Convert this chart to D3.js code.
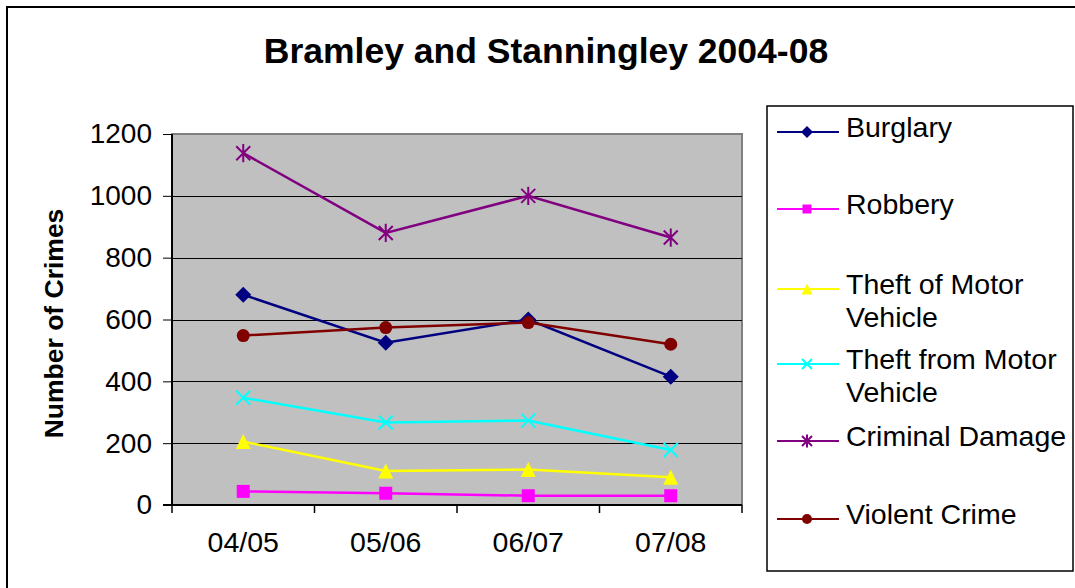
<!DOCTYPE html>
<html>
<head>
<meta charset="utf-8">
<script src="https://cdn.jsdelivr.net/npm/d3@7"></script>
<style>
  body { margin: 0; background: #fff; }
  svg { display: block; font-family: "Liberation Sans", Arial, sans-serif; }
</style>
</head>
<body>
<div id="chart"></div>
<script>
var years = ["04/05", "05/06", "06/07", "07/08"];
var yTicks = [0, 200, 400, 600, 800, 1000, 1200];

var burglary = [680, 525, 600, 415];
var robbery = [44, 38, 30, 30];
var theftOf = [205, 110, 115, 90];
var theftFrom = [347, 267, 273, 178];
var criminalDamage = [1138, 880, 1000, 865];
var violentCrime = [548, 574, 590, 520];

var seriesNames = ["Burglary", "Robbery", "Theft of Motor Vehicle", "Theft from Motor Vehicle", "Criminal Damage", "Violent Crime"];
var seriesColors = ["#000080", "#ff00ff", "#ffff00", "#00ffff", "#800080", "#800000"];
var seriesMarkers = ["diamond", "square", "triangle", "x", "star", "circle"];
var seriesValues = [burglary, robbery, theftOf, theftFrom, criminalDamage, violentCrime];

function init() {
  var w = 1075, h = 588;
  var plot = {left: 172, right: 742, top: 134, bottom: 505};

  var svg = d3.select("#chart").append("svg")
    .attr("width", w)
    .attr("height", h);

  // outer chart frame (cut off at right and bottom)
  svg.append("rect")
    .attr("x", 7).attr("y", 7)
    .attr("width", 1200).attr("height", 800)
    .attr("fill", "#fff")
    .attr("stroke", "#000")
    .attr("stroke-width", 2);

  svg.append("text")
    .attr("x", 546).attr("y", 63)
    .attr("text-anchor", "middle")
    .attr("font-size", "35.5px")
    .attr("font-weight", "bold")
    .text("Bramley and Stanningley 2004-08");

  var xScale = d3.scaleBand()
    .domain(years)
    .range([plot.left, plot.right]);

  var yScale = d3.scaleLinear()
    .domain([0, 1200])
    .range([plot.bottom, plot.top]);

  // plot background
  svg.append("rect")
    .attr("x", plot.left).attr("y", plot.top)
    .attr("width", plot.right - plot.left)
    .attr("height", plot.bottom - plot.top)
    .attr("fill", "#c0c0c0")
    .attr("stroke", "#808080")
    .attr("stroke-width", 2);

  // gridlines
  svg.append("g")
    .selectAll("line")
    .data(yTicks.filter(function(d) { return d > 0 && d < 1200; }))
    .enter().append("line")
    .attr("x1", plot.left).attr("x2", plot.right)
    .attr("y1", function(d) { return Math.round(yScale(d)) + 0.5; })
    .attr("y2", function(d) { return Math.round(yScale(d)) + 0.5; })
    .attr("stroke", "#000")
    .attr("stroke-width", 1);

  var yAxis = d3.axisLeft(yScale)
    .tickValues(yTicks)
    .tickFormat(d3.format("d"))
    .tickSize(9)
    .tickPadding(11);

  var gy = svg.append("g")
    .attr("transform", "translate(" + plot.left + ",0)")
    .call(yAxis);
  gy.select(".domain").remove();
  gy.append("line")
    .attr("x1", 0).attr("x2", 0)
    .attr("y1", plot.top).attr("y2", plot.bottom)
    .attr("stroke", "#000").attr("stroke-width", 2);
  gy.selectAll("text")
    .attr("font-size", "28px")
    .attr("font-family", "Liberation Sans, Arial, sans-serif")
    .attr("fill", "#000");

  var xAxis = d3.axisBottom(xScale)
    .tickSize(0)
    .tickPadding(27);

  var gx = svg.append("g")
    .attr("transform", "translate(0," + plot.bottom + ")")
    .call(xAxis);
  gx.select(".domain").remove();
  gx.append("line")
    .attr("x1", plot.left - 9).attr("x2", plot.right)
    .attr("y1", 0).attr("y2", 0)
    .attr("stroke", "#000").attr("stroke-width", 2);
  gx.selectAll(".boundary")
    .data([plot.left].concat(years.map(function(d) { return xScale(d) + xScale.bandwidth(); })))
    .enter().append("line")
    .attr("class", "boundary")
    .attr("x1", function(d) { return d; }).attr("x2", function(d) { return d; })
    .attr("y1", 0).attr("y2", 8)
    .attr("stroke", "#000").attr("stroke-width", 1.5);
  gx.selectAll("text")
    .attr("font-size", "28.5px")
    .attr("font-family", "Liberation Sans, Arial, sans-serif")
    .attr("fill", "#000");

  svg.append("text")
    .attr("transform", "translate(63," + ((plot.top + plot.bottom) / 2 + 4) + ") rotate(-90)")
    .attr("text-anchor", "middle")
    .attr("font-size", "26.5px")
    .attr("font-weight", "bold")
    .text("Number of Crimes");

  function markerPath(type, s) {
    if (type == "diamond") return "M0," + (-s) + "L" + s + ",0L0," + s + "L" + (-s) + ",0Z";
    if (type == "square") return "M" + (-s) + "," + (-s) + "h" + (2 * s) + "v" + (2 * s) + "h" + (-2 * s) + "Z";
    if (type == "triangle") return "M0," + (-s) + "L" + s + "," + s + "L" + (-s) + "," + s + "Z";
    if (type == "x") return "M" + (-s) + "," + (-s) + "L" + s + "," + s + "M" + (-s) + "," + s + "L" + s + "," + (-s);
    if (type == "star") return "M" + (-s) + "," + (-s) + "L" + s + "," + s + "M" + (-s) + "," + s + "L" + s + "," + (-s) + "M0," + (-s * 1.3) + "L0," + (s * 1.3);
    return null;
  }

  function drawMarker(g, type, color, x, y, s) {
    if (type == "circle") {
      g.append("circle").attr("cx", x).attr("cy", y).attr("r", s)
        .attr("fill", color);
    } else if (type == "x" || type == "star") {
      g.append("path").attr("d", markerPath(type, s))
        .attr("transform", "translate(" + x + "," + y + ")")
        .attr("fill", "none").attr("stroke", color).attr("stroke-width", 2);
    } else {
      g.append("path").attr("d", markerPath(type, s))
        .attr("transform", "translate(" + x + "," + y + ")")
        .attr("fill", color);
    }
  }

  var line = d3.line()
    .x(function(d, i) { return xScale(years[i]) + xScale.bandwidth() / 2; })
    .y(function(d) { return yScale(d); });

  var markerSize = {diamond: 8, square: 6.5, triangle: 7.5, x: 7, star: 7, circle: 6.5};

  seriesValues.forEach(function(vals, k) {
    var g = svg.append("g");
    g.append("path")
      .datum(vals)
      .attr("d", line)
      .attr("fill", "none")
      .attr("stroke", seriesColors[k])
      .attr("stroke-width", 2.5);
    vals.forEach(function(v, i) {
      drawMarker(g, seriesMarkers[k], seriesColors[k],
        xScale(years[i]) + xScale.bandwidth() / 2, yScale(v), markerSize[seriesMarkers[k]]);
    });
  });

  // legend
  var legend = svg.append("g");
  legend.append("rect")
    .attr("x", 767).attr("y", 106)
    .attr("width", 306).attr("height", 465)
    .attr("fill", "#fff")
    .attr("stroke", "#000")
    .attr("stroke-width", 1.5);

  var legendRows = [
    {y: 132, lines: ["Burglary"]},
    {y: 209, lines: ["Robbery"]},
    {y: 289, lines: ["Theft of Motor", "Vehicle"]},
    {y: 364, lines: ["Theft from Motor", "Vehicle"]},
    {y: 441, lines: ["Criminal Damage"]},
    {y: 519, lines: ["Violent Crime"]}
  ];
  var legendSize = {diamond: 6, square: 4.5, triangle: 5.5, x: 5, star: 5, circle: 5};

  legendRows.forEach(function(r, k) {
    legend.append("line")
      .attr("x1", 777).attr("x2", 839)
      .attr("y1", r.y).attr("y2", r.y)
      .attr("stroke", seriesColors[k])
      .attr("stroke-width", 2);
    drawMarker(legend, seriesMarkers[k], seriesColors[k], 807, r.y, legendSize[seriesMarkers[k]]);
    var t = legend.append("text")
      .attr("x", 846)
      .attr("y", r.y + 5)
      .attr("font-size", "28.5px");
    r.lines.forEach(function(s, j) {
      t.append("tspan")
        .attr("x", 846)
        .attr("dy", j == 0 ? 0 : 33)
        .text(s);
    });
  });
}

window.onload = init;
</script>
</body>
</html>
